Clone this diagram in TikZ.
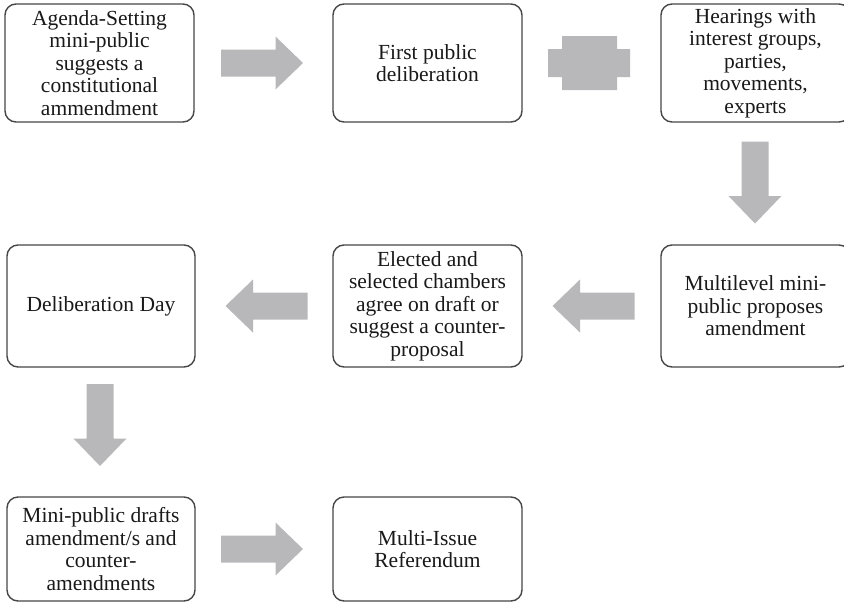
\documentclass[tikz,border=0pt]{standalone}
\usepackage{fontspec}
\setmainfont{Liberation Serif}
\begin{document}
\begin{tikzpicture}[x=1pt,y=-1pt,
  box/.style={draw=boxline, line width=1.4pt, rounded corners=11pt, fill=white,
    align=center, text=textdark, inner sep=0pt,
    font=\fontsize{21.5}{22.5}\selectfont},
  blockarrow/.pic={\fill[arrowgray] (-41,-13.5) -- (13.5,-13.5) -- (13.5,-26.5) -- (41,0)
      -- (13.5,26.5) -- (13.5,13.5) -- (-41,13.5) -- cycle;}]
\definecolor{boxline}{RGB}{70,70,70}
\definecolor{textdark}{RGB}{25,25,25}
\definecolor{arrowgray}{RGB}{184,184,186}
\useasboundingbox (0,0) rectangle (844,603);
\clip (0,0) rectangle (844,603);
% row 1
\node[box, minimum width=189pt, minimum height=118pt] (agenda) at (99.5,63)
  {Agenda-Setting\\mini-public\\suggests a\\constitutional\\ammendment};
\node[box, minimum width=189pt, minimum height=118pt] (first) at (427.5,63)
  {First public\\deliberation};
\node[box, minimum width=189pt, minimum height=118pt] (hear) at (755.5,63)
  {Hearings with\\interest groups,\\parties,\\movements,\\experts};
% row 2
\node[box, minimum width=188pt, minimum height=122pt] (dday) at (101,306)
  {Deliberation Day};
\node[box, minimum width=189pt, minimum height=122pt] (elect) at (427.5,306)
  {Elected and\\selected chambers\\agree on draft or\\suggest a counter-\\proposal};
\node[box, minimum width=189pt, minimum height=122pt] (multi) at (755.5,306)
  {Multilevel mini-\\public proposes\\amendment};
% row 3
\node[box, minimum width=188pt, minimum height=104pt] (drafts) at (101,549)
  {Mini-public drafts\\amendment/s and\\counter-\\amendments};
\node[box, minimum width=189pt, minimum height=104pt] (ref) at (427.5,549)
  {Multi-Issue\\Referendum};
% block arrows
\pic at (262,63) {blockarrow};
\fill[arrowgray] (548,49) -- (562,49) -- (562,36) -- (617,36) -- (617,49) -- (630,49)
  -- (630,77) -- (617,77) -- (617,90) -- (562,90) -- (562,77) -- (548,77) -- cycle;
\pic[rotate=-90] at (755,182.5) {blockarrow};
\pic[rotate=180] at (593.5,306) {blockarrow};
\pic[rotate=180] at (266.5,306) {blockarrow};
\pic[rotate=-90] at (100,425) {blockarrow};
\pic at (262,549) {blockarrow};
\end{tikzpicture}
\end{document}
